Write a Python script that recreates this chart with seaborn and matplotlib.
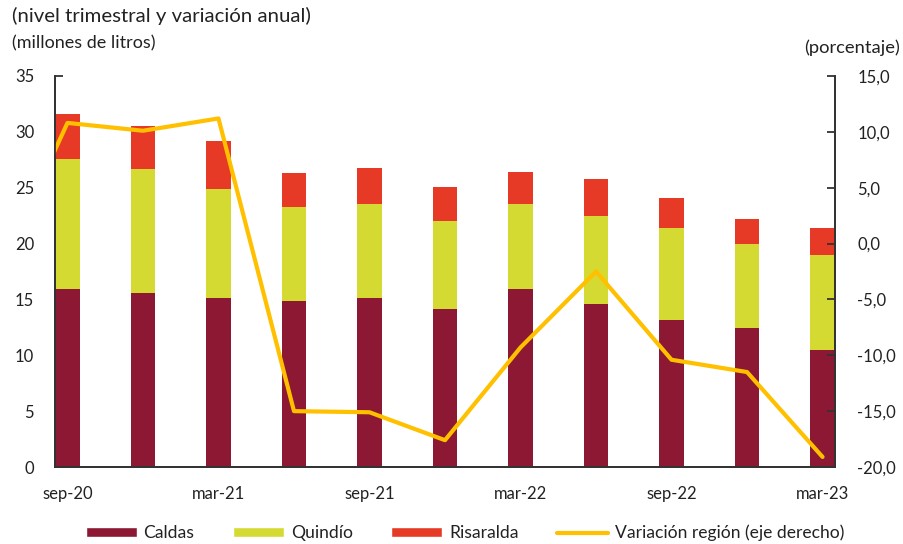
import numpy as np
import pandas as pd
import matplotlib
matplotlib.use('Agg')
import seaborn as sns
from matplotlib import pyplot as plt
from matplotlib.patches import Patch
from matplotlib.lines import Line2D
from matplotlib.ticker import FuncFormatter, FixedLocator

periodos = ['sep-20', 'dic-20', 'mar-21', 'jun-21', 'sep-21', 'dic-21',
            'mar-22', 'jun-22', 'sep-22', 'dic-22', 'mar-23']
etiquetas = ['sep-20', '', 'mar-21', '', 'sep-21', '', 'mar-22', '', 'sep-22', '', 'mar-23']
caldas = [15.9, 15.6, 15.1, 14.9, 15.1, 14.1, 15.9, 14.6, 13.2, 12.4, 10.5]
quindio = [11.7, 11.1, 9.8, 8.4, 8.4, 7.9, 7.6, 7.9, 8.2, 7.6, 8.5]
risaralda = [4.0, 3.8, 4.3, 3.0, 3.3, 3.1, 2.9, 3.3, 2.7, 2.2, 2.4]
# variación anual (jun-20 queda fuera del área, solo se ve el tramo de entrada)
variacion_previa = -3.9
variacion = [10.8, 10.1, 11.2, -15.0, -15.1, -17.6, -9.3, -2.5, -10.4, -11.5, -19.1]

c_caldas = '#8C1834'
c_quindio = '#D5DA33'
c_risaralda = '#E63A27'
c_linea = '#FFC000'

ancho = 0.33
pd_data = pd.DataFrame({'periodo': periodos, 'caldas': caldas,
                        'quindio': quindio, 'risaralda': risaralda})
pd_data['pos'] = np.arange(len(periodos)) + ancho / 2
pd_data['cq'] = pd_data['caldas'] + pd_data['quindio']
pd_data['total'] = pd_data['cq'] + pd_data['risaralda']

pd_linea = pd.DataFrame({'pos': np.arange(-1, len(periodos)) + ancho / 2,
                         'var': [variacion_previa] + variacion})

sns.set_style("white")
plt.rcParams['font.family'] = ['Lato', 'DejaVu Sans']

fig = plt.figure(figsize=(9.04, 5.44), dpi=100)
axe = fig.add_axes([55/904, 1-467/544, 780/904, 391/544])

for col, color in [('total', c_risaralda), ('cq', c_quindio), ('caldas', c_caldas)]:
    sns.barplot(data=pd_data, x='pos', y=col, native_scale=True, width=ancho,
                color=color, saturation=1, linewidth=0, errorbar=None, ax=axe)

axe.set_xlim(0, len(periodos) - 1 + ancho)
axe.set_ylim(0, 35)
axe.set_yticks(np.arange(0, 36, 5))
axe.set_xlabel('')
axe.set_ylabel('')
axe.xaxis.set_major_locator(FixedLocator(np.arange(0, len(periodos), 2)))
axe.xaxis.set_minor_locator(FixedLocator(pd_data['pos']))
axe.set_xticklabels([], minor=False)
axe.set_xticklabels(etiquetas, minor=True)
axe.tick_params(axis='x', which='major', direction='in', length=6, width=1.3, color='#333333')
axe.tick_params(axis='x', which='minor', length=0, pad=14, labelsize=12, labelcolor='#222222')
axe.tick_params(axis='y', direction='in', length=6, width=1.3, color='#333333',
                labelsize=12, labelcolor='#222222', pad=15)

ax2 = axe.twinx()
sns.lineplot(data=pd_linea, x='pos', y='var', color=c_linea, linewidth=3, ax=ax2)
ax2.set_xlim(0, len(periodos) - 1 + ancho)
ax2.set_ylim(-20, 15)
ax2.set_yticks(np.arange(-20, 16, 5))
ax2.yaxis.set_major_formatter(FuncFormatter(lambda v, p: '{:.1f}'.format(v).replace('.', ',')))
ax2.set_ylabel('')
ax2.tick_params(axis='y', direction='in', length=6, width=1.3, color='#333333',
                labelsize=12, labelcolor='#222222', pad=16)

for a in (axe, ax2):
    a.spines['top'].set_visible(False)
    for s in ('left', 'right', 'bottom'):
        a.spines[s].set_linewidth(1.3)
        a.spines[s].set_color('#333333')

fig.text(12/904, 1-16/544, '(nivel trimestral y variación anual)', fontsize=14.7,
         color='#222222', va='center', ha='left')
fig.text(12/904, 1-43/544, '(millones de litros)', fontsize=13,
         color='#222222', va='center', ha='left')
fig.text(900/904, 1-48/544, '(porcentaje)', fontsize=13.2,
         color='#222222', va='center', ha='right')

handles = [Patch(facecolor=c_caldas, label='Caldas'),
           Patch(facecolor=c_quindio, label='Quindío'),
           Patch(facecolor=c_risaralda, label='Risaralda'),
           Line2D([], [], color=c_linea, linewidth=3, label='Variación región (eje derecho)')]
fig.legend(handles=handles, loc='center', bbox_to_anchor=(465/904, 1-533/544), ncol=4,
           frameon=False, fontsize=12.6, handlelength=2.9, handleheight=0.55,
           columnspacing=2.2, handletextpad=0.4, labelcolor='#222222')

plt.savefig('out.png', dpi=100)
